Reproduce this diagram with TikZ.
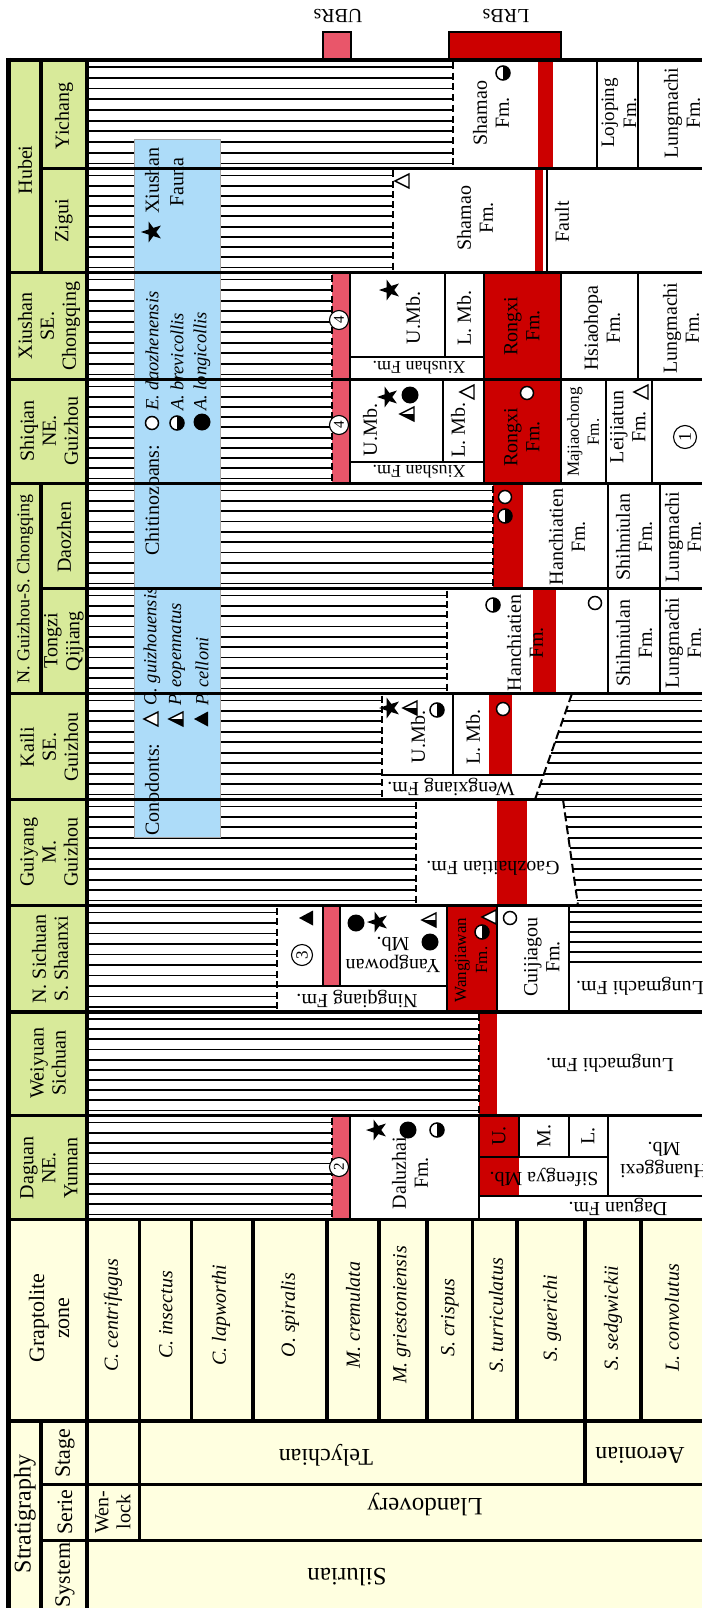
\documentclass[tikz,border=0pt]{standalone}
\usepackage{fontspec}
\setmainfont{Liberation Serif}
\usetikzlibrary{shapes.geometric}
\definecolor{grn}{HTML}{D8EA9A}
\definecolor{crm}{HTML}{FFFFE0}
\definecolor{rd}{HTML}{CC0000}
\definecolor{pk}{HTML}{E9566A}
\definecolor{lb}{HTML}{ADDCF9}
\newcommand\fz[2]{\fontsize{#1}{#2}\selectfont}
\tikzset{
  hl/.style={line width=1.8pt,black},
  cl/.style={line width=2.2pt,black},
  bl/.style={line width=3.4pt,black},
  txt/.style={inner sep=0pt,align=center,font=\fz{20}{22}},
  rt/.style={txt,rotate=90},
  ud/.style={txt,rotate=180},
  itx/.style={font=\fz{20}{22}\itshape},
  lgn/.style={rt,anchor=west,font=\fz{20}{22}},
  lgi/.style={rt,anchor=west,font=\fz{18.5}{21}\itshape},
  cnum/.style={circle,draw,fill=white,line width=1.1pt,inner sep=0pt,minimum size=19pt,font=\fz{15}{15},rotate=90}
}
\newcommand\hatch[4]{\foreach \k in {0,...,9}{\pgfmathsetmacro\yy{#3+7+\k*(#4-#3-12)/9}\draw[hl] (#1,\yy) -- (#2,\yy);}}
\newcommand\hend[3]{\foreach \k in {0,...,9}{\pgfmathsetmacro\yy{#2+7+\k*(#3-#2-12)/9}\draw[hl] (#1,\yy-5) -- (#1,\yy+2);}}
\newcommand\shatch[5]{\foreach \k in {0,...,9}{\pgfmathsetmacro\yy{#4+7+\k*(#5-#4-12)/9}\pgfmathsetmacro\xs{#1+(\yy-#4)*(#2-#1)/(#5-#4)}\draw[hl] (\xs,\yy) -- (#3,\yy);}}
\newcommand\symOT[2]{\draw[line width=1.4pt,fill=white] (#1-8,#2) -- (#1+6,#2-7) -- (#1+6,#2+7) -- cycle;}
\newcommand\symFT[2]{\fill[black] (#1-8,#2) -- (#1+6,#2-7.5) -- (#1+6,#2+7.5) -- cycle;}
\newcommand\symHT[2]{\draw[line width=1.4pt,fill=white] (#1-8,#2) -- (#1+6,#2-7) -- (#1+6,#2+7) -- cycle;\fill[black] (#1-8,#2) -- (#1+6,#2) -- (#1+6,#2+7) -- cycle;}
\newcommand\symOC[2]{\draw[line width=1.5pt,fill=white] (#1,#2) circle (6.5pt);}
\newcommand\symFC[2]{\fill[black] (#1,#2) circle (8.5pt);}
\newcommand\symHC[2]{\draw[line width=1.5pt,fill=white] (#1,#2) circle (7pt);\fill[black] (#1,#2-7) arc[start angle=90,end angle=-90,radius=7pt] -- cycle;}
\newcommand\symST[2]{\fill[black,shift={(#1,#2)}] (180:11pt) -- (216:4.3pt) -- (252:11pt) -- (288:4.3pt) -- (324:11pt) -- (0:4.3pt) -- (36:11pt) -- (72:4.3pt) -- (108:11pt) -- (144:4.3pt) -- cycle;}
\begin{document}
\begin{tikzpicture}[x=1pt,y=-1pt]
\useasboundingbox (0,0) rectangle (702,1608);
\clip (0,0) rectangle (702,1608);
\fill[white] (0,0) rectangle (702,1608);
% base fills
\fill[grn] (8,60) rectangle (87,1219.5);
\fill[crm] (8,1219.5) rectangle (702,1608);
% coloured bands
\fill[rd] (538,60) rectangle (553,168.5);
\fill[rd] (535,168.5) rectangle (543,272.5);
\fill[pk] (332,272.5) rectangle (350,379.5);
\fill[rd] (484,272.5) rectangle (561,379.5);
\fill[pk] (332,379.5) rectangle (350,483.5);
\fill[rd] (484,379.5) rectangle (561,483.5);
\fill[rd] (493,483.5) rectangle (523,588.5);
\fill[rd] (533,588.5) rectangle (556,693.5);
\fill[rd] (489,693.5) rectangle (512,775);
\fill[rd] (497,799.5) rectangle (527,905.5);
\fill[pk] (323,905.5) rectangle (340,986);
\fill[rd] (447,905.5) rectangle (497,1012);
\fill[rd] (479,1012) rectangle (497,1115.5);
\fill[pk] (332,1115.5) rectangle (350,1219.5);
\fill[rd] (479,1115.5) rectangle (519,1196);
% UBRs / LRBs
\draw[cl,fill=pk] (323,32) rectangle (351,60);
\draw[cl,fill=rd] (449,32) rectangle (561,60);
\node[ud] (ubrs) at (338,16) {UBRs};
\node[ud] (lrbs) at (506,16) {LRBs};
% hatching
\hatch{87}{453}{60}{168.5}\hend{453}{60}{168.5}
\hatch{87}{393}{168.5}{272.5}\hend{393}{168.5}{272.5}
\hatch{87}{332}{272.5}{379.5}\hend{332}{272.5}{379.5}
\hatch{87}{332}{379.5}{483.5}\hend{332}{379.5}{483.5}
\hatch{87}{493}{483.5}{588.5}\hend{493}{483.5}{588.5}
\hatch{87}{447}{588.5}{693.5}\hend{447}{588.5}{693.5}
\hatch{87}{382}{693.5}{799.5}\hend{382}{693.5}{799.5}
\shatch{572}{535}{702}{693.5}{799.5}
\draw[line width=2pt,dash pattern=on 9pt off 4pt] (572,693.5) -- (535,799.5);
\hatch{87}{416}{799.5}{905.5}\hend{416}{799.5}{905.5}
\shatch{563}{578}{702}{799.5}{905.5}
\draw[line width=2pt,dash pattern=on 9pt off 4pt] (563,799.5) -- (578,905.5);
\hatch{87}{277}{905.5}{1012}\hend{277}{905.5}{1012}
\foreach \yy in {912,922,932,942,952} \draw[hl] (569,\yy) -- (702,\yy);
\hatch{87}{479}{1012}{1115.5}\hend{479}{1012}{1115.5}
\hatch{87}{332}{1115.5}{1219.5}\hend{332}{1115.5}{1219.5}
% legend box
\draw[gray!70,line width=0.8pt,fill=lb] (134,139) rectangle (220,837);
% cell lines
\draw[cl] (597,60) -- (597,168.5);
\draw[cl] (638,60) -- (638,168.5);
\draw[cl] (547,168.5) -- (547,272.5);
\draw[cl] (350,272.5) -- (350,483.5);
\draw[cl] (484,272.5) -- (484,483.5);
\draw[cl] (561,272.5) -- (561,483.5);
\draw[cl] (638,272.5) -- (638,379.5);
\draw[cl] (350,357) -- (484,357);
\draw[cl] (445,272.5) -- (445,357);
\draw[cl] (350,462) -- (484,462);
\draw[cl] (443,379.5) -- (443,462);
\draw[cl] (606,379.5) -- (606,483.5);
\draw[cl] (652,379.5) -- (652,483.5);
\draw[cl] (608,483.5) -- (608,693.5);
\draw[cl] (660,483.5) -- (660,693.5);
\draw[cl] (453,693.5) -- (453,775);
\draw[cl] (382,775) -- (543.6,775);
\draw[cl] (277,986) -- (447,986);
\draw[cl] (323,905.5) -- (323,986);
\draw[cl] (340,905.5) -- (340,986);
\draw[cl] (447,905.5) -- (447,1012);
\draw[cl] (497,905.5) -- (497,1012);
\draw[cl] (569,905.5) -- (569,1012);
\draw[cl] (569,962) -- (702,962);
\draw[cl] (350,1115.5) -- (350,1219.5);
\draw[cl] (479,1115.5) -- (479,1219.5);
\draw[cl] (479,1157) -- (608,1157);
\draw[cl] (479,1196) -- (702,1196);
\draw[cl] (519,1115.5) -- (519,1157);
\draw[cl] (569,1115.5) -- (569,1157);
\draw[cl] (608,1115.5) -- (608,1196);
% main lines
\draw[bl] (8,60) -- (702,60);
\draw[line width=4.5pt] (8.5,58) -- (8.5,1608);
\foreach \yy in {272.5,379.5,483.5,693.5,799.5,905.5,1012,1115.5,1219.5,1421} \draw[bl] (8,\yy) -- (702,\yy);
\foreach \yy in {168.5,588.5,1484.5,1540.5} \draw[bl] (41,\yy) -- (702,\yy);
\draw[bl] (41,60) -- (41,272.5);
\draw[bl] (41,483.5) -- (41,693.5);
\draw[bl] (41,1421) -- (41,1608);
\draw[bl] (87,60) -- (87,1608);
\foreach \xx in {139.5,191.5,253,327,379,427,472.5,517,585,641} \draw[bl] (\xx,1219.5) -- (\xx,1421);
\draw[bl] (139.5,1421) -- (139.5,1540.5);
\draw[bl] (585,1421) -- (585,1484.5);
% left header texts
\node[rt] (hubei) at (25,170) {Hubei};
\node[rt] (yich) at (64,116) {Yichang};
\node[rt] (zigui) at (64,221) {Zigui};
\node[rt] (xius) at (49,326) {Xiushan\\SE.\\Chongqing};
\node[rt] (shiq) at (49,431) {Shiqian\\NE.\\Guizhou};
\node[rt,font=\fz{18}{20}] (ngz) at (25,589) {N. Guizhou-S. Chongqing};
\node[rt] (daoz) at (64,537) {Daozhen};
\node[rt] (tong) at (64,641) {Tongzi\\Qijiang};
\node[rt] (kaili) at (49,747) {Kaili\\SE.\\Guizhou};
\node[rt] (guiy) at (49,852) {Guiyang\\M.\\Guizhou};
\node[rt] (nsich) at (50,959) {N. Sichuan\\S. Shaanxi};
\node[rt] (weiy) at (48,1063) {Weiyuan\\Sichuan};
\node[rt] (dagu) at (49,1168) {Daguan\\NE.\\Yunnan};
\node[rt,font=\fz{22}{25}] (gzh) at (49,1318) {Graptolite\\zone};
\node[rt,font=\fz{24}{26}] (strat) at (25,1514) {Stratigraphy};
\node[rt,font=\fz{22}{24}] (stage) at (65,1453) {Stage};
\node[rt,font=\fz{22}{24}] (serie) at (65,1512) {Serie};
\node[rt,font=\fz{22}{24}] (system) at (65,1575) {System};
\node[rt] (wenl) at (113,1512) {Wen-\\lock};
\node[ud,font=\fz{24}{26}] (tely) at (326,1455) {Telychian};
\node[ud,font=\fz{24}{26}] (aero) at (640,1455) {Aeronian};
\node[ud,font=\fz{25}{27}] (llan) at (425,1504) {Llandovery};
\node[ud,font=\fz{25}{27}] (silu) at (347,1577) {Silurian};
% graptolite zones
\node[rt,itx] (g1) at (113,1315) {C. centrifugus};
\node[rt,itx] (g2) at (166,1315) {C. insectus};
\node[rt,itx] (g3) at (221,1315) {C. lapworthi};
\node[rt,itx] (g4) at (290,1315) {O. spiralis};
\node[rt,itx] (g5) at (353,1315) {M. cremulata};
\node[rt,itx] (g6) at (402,1315) {M. griestoniensis};
\node[rt,itx] (g7) at (450,1318) {S. crispus};
\node[rt,itx] (g8) at (496,1315) {S. turriculatus};
\node[rt,itx] (g9) at (552,1318) {S. guerichi};
\node[rt,itx] (g10) at (613,1318) {S. sedgwickii};
\node[rt,itx] (g11) at (672,1318) {L. convolutus};
% legend
\node[lgn] (lcon) at (152,836) {Conodonts:};
\symOT{152}{719}
\node[lgi] (log) at (152,706) {O. guizhouensis};
\node[lgn] (lchi) at (152,556) {Chitinozoans:};
\symOC{152}{423}
\node[lgi] (led) at (152,411) {E. daozhenensis};
\symST{152}{232}
\node[lgn] (lxf) at (152,214) {Xiushan};
\node[rt,font=\fz{20}{22}] (lfau) at (177,182) {Fauna};
\symHT{177}{719}
\node[lgi] (lpe) at (177,706) {P. eopennatus};
\symHC{177}{423}
\node[lgi] (lab) at (177,411) {A. brevicollis};
\symFT{202}{719}
\node[lgi] (lpc) at (202,706) {P. celloni};
\symFC{202}{422}
\node[lgi] (lal) at (202,411) {A. longicollis};
% R1 Yichang
\node[rt] (sham1) at (491,113) {Shamao\\Fm.};
\node[rt,font=\fz{19}{22}] (lojo) at (619,113) {Lojoping\\Fm.};
\node[rt] (lung1) at (682,113) {Lungmachi\\Fm.};
\symHC{503}{73}
% R2 Zigui
\node[rt] (sham2) at (475,218) {Shamao\\Fm.};
\node[rt] (fault) at (562,222) {Fault};
\symOT{403}{181}
% R3 Xiushan
\node[rt] (umb3) at (413,318) {U.Mb.};
\node[rt] (lmb3) at (464,318) {L. Mb.};
\node[ud,font=\fz{18}{20}] (xfm3) at (419,368) {Xiushan Fm.};
\node[rt] (rong3) at (522,326) {Rongxi\\Fm.};
\node[rt] (hsia) at (602,328) {Hsiaohopa\\Fm.};
\node[rt] (lung3) at (681,328) {Lungmachi\\Fm.};
\symST{390}{290}
\node[cnum] (c4a) at (339,320) {4};
% R4 Shiqian
\node[rt] (umb4) at (370,430) {U.Mb.};
\node[rt] (lmb4) at (458,430) {L. Mb.};
\node[ud,font=\fz{18}{20}] (xfm4) at (419,472) {Xiushan Fm.};
\node[rt] (rong4) at (522,437) {Rongxi\\Fm.};
\node[rt,font=\fz{17}{20}] (maji) at (583,432) {Majiaochong\\Fm.};
\node[rt] (leij) at (628,427) {Leijiatun\\Fm.};
\symST{388}{397}
\symFC{410}{395}
\symHT{408}{414}
\symOT{468}{392}
\symOC{527}{393}
\symOT{642}{392}
\node[cnum] (c4b) at (339,425) {4};
\node[cnum,minimum size=23pt,font=\fz{18}{18}] (c1) at (685,437) {1};
% R5 Daozhen
\node[rt] (hanc5) at (567,537) {Hanchiatien\\Fm.};
\node[rt] (shih5) at (634,537) {Shihniulan\\Fm.};
\node[rt] (lung5) at (683,537) {Lungmachi\\Fm.};
\symOC{505}{497}
\symHC{505}{516}
% R6 Tongzi
\node[rt] (hanc6) at (525,643) {Hanchiatien\\Fm.};
\node[rt] (shih6) at (634,643) {Shihniulan\\Fm.};
\node[rt] (lung6) at (683,643) {Lungmachi\\Fm.};
\symHC{493}{605}
\symOC{595}{603}
% R7 Kaili
\node[rt] (umb7) at (418,737) {U.Mb.};
\node[rt] (lmb7) at (473,737) {L. Mb.};
\node[ud] (weng) at (451,787) {Wengxiang Fm.};
\symST{390}{708}
\symHT{411}{708}
\symHC{437}{710}
\symOC{503}{709}
% R8 Guiyang
\node[ud] (gaoz) at (493,868) {Gaozhaitian Fm.};
% R9 N. Sichuan
\node[ud] (ning) at (357,999) {Ningqiang Fm.};
\node[ud] (yang) at (393,955) {Yangpowan\\Mb.};
\node[rt,font=\fz{17}{21}] (wang) at (471,960) {Wangjiawan\\Fm.};
\node[rt] (cuij) at (542,957) {Cuijiagou\\Fm.};
\node[ud] (lung9) at (640,986) {Lungmachi Fm.};
\symFT{307}{918}
\node[cnum,minimum size=21pt,font=\fz{17}{17}] (c3) at (302,955) {3};
\symFC{356}{923}
\symST{378}{922}
\symHT{430}{920}
\symFC{430}{942}
\symHC{482}{932}
\symOT{490}{917}
\symOC{510}{918}
% R10 Weiyuan
\node[ud] (lung10) at (610,1063) {Lungmachi Fm.};
% R11 Daguan
\node[rt] (dalu) at (410,1173) {Daluzhai\\Fm.};
\node[rt] (u11) at (499,1136) {U.};
\node[rt] (m11) at (544,1136) {M.};
\node[rt] (l11) at (588,1136) {L.};
\node[ud] (sife) at (544,1177) {Sifengya Mb.};
\node[ud] (huan) at (664,1160) {Huanggexi\\Mb.};
\node[ud] (dgfm) at (618,1207) {Daguan Fm.};
\symST{377}{1130}
\symFC{408}{1130}
\symHC{437}{1130}
\node[cnum] (c2) at (339,1167) {2};
\end{tikzpicture}
\end{document}
